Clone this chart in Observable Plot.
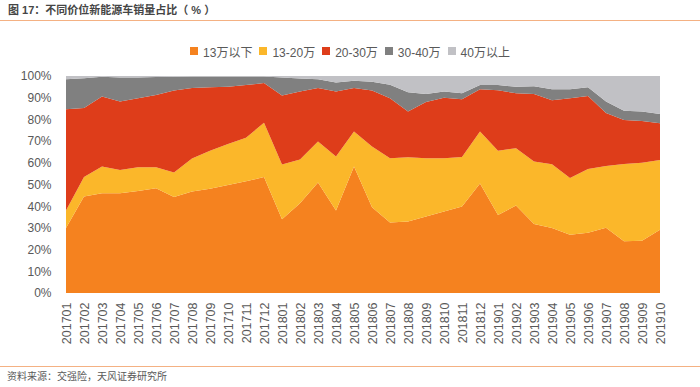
<!DOCTYPE html>
<html>
<head>
<meta charset="utf-8">
<script src="https://cdn.jsdelivr.net/npm/d3@7"></script>
<script src="https://cdn.jsdelivr.net/npm/@observablehq/plot@0.6"></script>
<style>
  body { margin: 0; background: #fff; font-family: "Liberation Sans", Arial, "Noto Sans CJK SC", sans-serif; }
  #wrap { position: relative; width: 700px; height: 387px; overflow: hidden; background: #fff; }
  #title { position: absolute; left: 8px; top: 3px; font-size: 11px; font-weight: bold; color: #454545; line-height: 14px; white-space: pre; }
  #tline { position: absolute; left: 0; top: 20px; width: 700px; height: 1px; background: #f4b183; }
  #legend { position: absolute; left: 0; top: 43px; width: 700px; height: 16px; display: flex; justify-content: center; align-items: center; font-size: 12px; color: #595959; white-space: nowrap; }
  .item { display: flex; align-items: center; margin: 0 3.5px; }
  .sw { width: 8px; height: 8px; margin-right: 5px; }
  #chart { position: absolute; left: 0; top: 60px; }
  #bline { position: absolute; left: 0; top: 366px; width: 700px; height: 1px; background: #f4b183; }
  #caption { position: absolute; left: 7px; top: 370px; font-size: 10px; color: #595959; line-height: 13px; white-space: nowrap; }
</style>
</head>
<body>
<div id="wrap">
  <div id="title">图 17：不同价位新能源车销量占比（ % ）</div>
  <div id="tline"></div>
  <div id="legend"></div>
  <div id="chart"></div>
  <div id="bline"></div>
  <div id="caption">资料来源：交强险，天风证券研究所</div>
</div>
<script>
const months = ["201701","201702","201703","201704","201705","201706","201707","201708","201709","201710","201711","201712",
                "201801","201802","201803","201804","201805","201806","201807","201808","201809","201810","201811","201812",
                "201901","201902","201903","201904","201905","201906","201907","201908","201909","201910"];
const seriesNames = ["13万以下", "13-20万", "20-30万", "30-40万", "40万以上"];
const colors = ["#f5821f", "#fbb72a", "#de3d1a", "#808080", "#c1c1c5"];

const below13 = [30, 44.5, 46, 46, 47, 48.3, 44.2, 46.8, 48, 49.8, 51.5, 53.4,
                 34, 41.4, 50.9, 38, 58.3, 39.5, 32.5, 33, 35.3, 37.6, 39.9, 50.5,
                 36, 40.3, 31.8, 29.9, 26.8, 27.8, 30.1, 23.8, 24.1, 29.1];
const from13to20 = [8, 9, 12.3, 10.7, 11, 9.7, 11.3, 15.2, 17.5, 18.9, 20, 25.1,
                    25.2, 20.1, 18.9, 24.9, 16.1, 28, 29.6, 29.6, 26.8, 24.5, 22.8, 23.9,
                    29.6, 26.4, 28.8, 29.4, 26.2, 29.4, 28.4, 35.7, 35.9, 32.2];
const from20to30 = [46.7, 31.7, 32.2, 31.5, 31.7, 33.3, 37.8, 32.5, 29.3, 26.3, 24.3, 18.3,
                    31.8, 31.3, 24.7, 29.9, 20.1, 25.8, 27.6, 21, 25.9, 27.9, 26.6, 19.5,
                    27.8, 25.3, 31.1, 29.5, 36.7, 33.6, 24.5, 20.2, 19.3, 16.9];
const from30to40 = [13.8, 13.8, 9.1, 11.1, 9.6, 8.2, 6.4, 5.3, 5.0, 4.8, 4.0, 3.0,
                    8.3, 6.1, 4.0, 4.2, 3.3, 4.1, 6.3, 8.9, 3.7, 2.8, 2.7, 2.0,
                    2.5, 3.0, 3.6, 5.1, 4.2, 4.0, 5.2, 4.3, 4.3, 4.3];
const above40 = [1.5, 1.0, 0.4, 0.7, 0.7, 0.5, 0.3, 0.2, 0.2, 0.2, 0.2, 0.2,
                 0.7, 1.1, 1.5, 3.0, 2.2, 2.6, 4.0, 7.5, 8.3, 7.2, 8.0, 4.1,
                 4.1, 5.0, 4.7, 6.1, 6.1, 5.2, 11.8, 16.0, 16.4, 17.5];
const yTicks = [0, 10, 20, 30, 40, 50, 60, 70, 80, 90, 100];

const seriesValues = [below13, from13to20, from20to30, from30to40, above40];
const rows = [];
seriesNames.forEach((s, si) => {
  months.forEach((m, mi) => rows.push({ month: m, series: s, value: seriesValues[si][mi] }));
});

// legend
const legend = document.getElementById("legend");
seriesNames.forEach((s, i) => {
  const it = document.createElement("div");
  it.className = "item";
  const sw = document.createElement("div");
  sw.className = "sw";
  sw.style.background = colors[i];
  const tx = document.createElement("span");
  tx.textContent = s;
  it.appendChild(sw); it.appendChild(tx);
  legend.appendChild(it);
});

const font = '"Liberation Sans", Arial, "Noto Sans CJK SC", sans-serif';
const chart = Plot.plot({
  width: 700,
  height: 295,
  marginLeft: 59,
  marginRight: 33,
  marginTop: 16,
  marginBottom: 62,
  style: { fontFamily: font, fontSize: "12px", color: "#595959", background: "transparent" },
  x: { type: "point", domain: months, padding: 0, label: null },
  y: { domain: [0, 100], label: null },
  color: { domain: seriesNames, range: colors },
  marks: [
    Plot.areaY(rows, { x: "month", y: "value", fill: "series", order: seriesNames, curve: "linear" }),
    Plot.axisX({ tickSize: 0, tickPadding: 9, tickRotate: -90, fontSize: 12.5, fill: "#595959", label: null }),
    Plot.axisY({ ticks: yTicks, tickSize: 0, tickPadding: 8, tickFormat: d => d + "%", fontSize: 12, fill: "#595959", label: null })
  ]
});
document.getElementById("chart").appendChild(chart);
</script>
</body>
</html>
